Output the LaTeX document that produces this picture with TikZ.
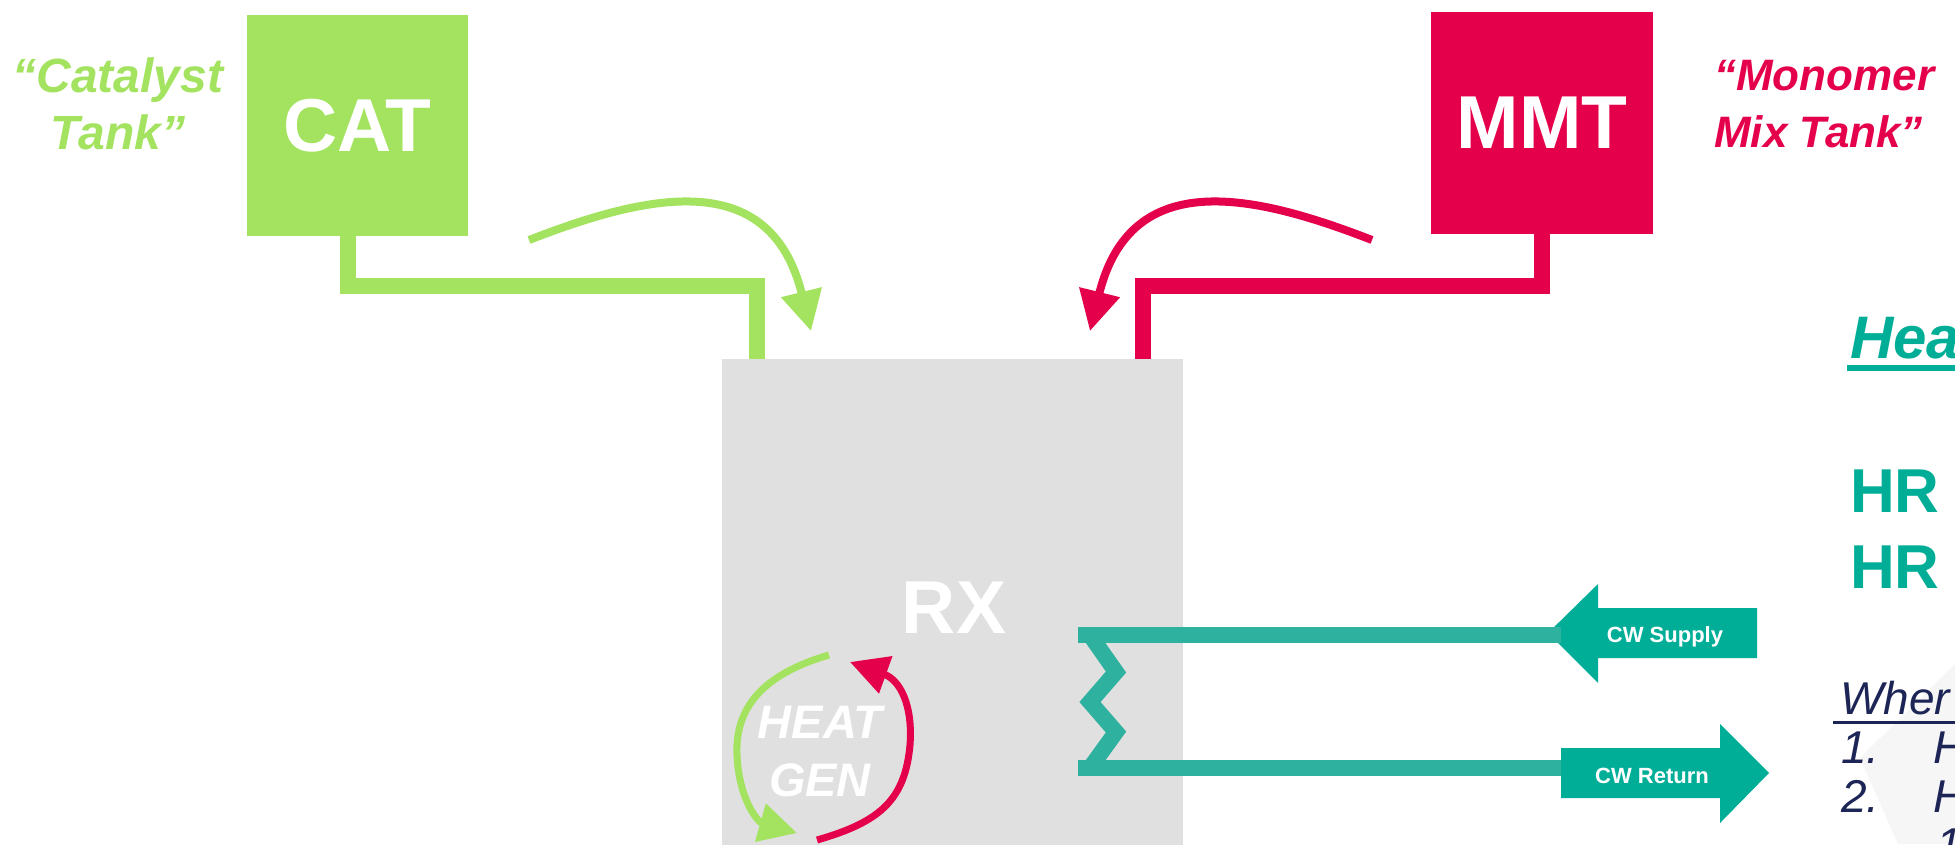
\documentclass[tikz,border=0pt]{standalone}
\usepackage{fontspec}
\setmainfont{Liberation Sans}
\usetikzlibrary{arrows.meta}
\definecolor{catg}{HTML}{A3E35F}
\definecolor{mmtr}{HTML}{E5004C}
\definecolor{rxgray}{HTML}{E0E0E0}
\definecolor{cwteal}{HTML}{00AE97}
\definecolor{coilteal}{HTML}{2FB1A0}
\definecolor{navy}{HTML}{1C2556}
\definecolor{shadegray}{HTML}{F6F6F6}
\begin{document}
\begin{tikzpicture}[x=1pt,y=-1pt,
  tank/.style={draw=none, inner sep=0pt, minimum width=221pt, minimum height=221pt, text=white, font=\bfseries\fontsize{75}{80}\selectfont},
  pipe/.style={line width=16pt, line join=miter},
  feed/.style={line width=8pt, -{Triangle[length=40pt,width=40pt]}},
  loopar/.style={line width=7pt, -{Triangle[length=38pt,width=38pt]}},
  coil/.style={coilteal, line width=16pt, line join=miter},
  cwtext/.style={anchor=base, inner sep=0pt, text=white, font=\bfseries\fontsize{22}{26}\selectfont},
  tanklabel/.style={inner sep=0pt, font=\bfseries\itshape\fontsize{48}{57}\selectfont},
  bigteal/.style={anchor=base west, inner sep=0pt, text=cwteal, font=\bfseries\fontsize{62}{76}\selectfont},
  navytext/.style={anchor=base west, inner sep=0pt, text=navy, font=\itshape\fontsize{46}{49}\selectfont}
]
\useasboundingbox (0,0) rectangle (1955,844);
\fill[white] (0,0) rectangle (1955,844);

% tanks and reactor
\node[tank, fill=catg] (CAT) at (357.5,125.5) {CAT};
\node[tank, fill=mmtr, minimum width=222pt, minimum height=222pt] (MMT) at (1542,123) {MMT};
\node[fill=rxgray, inner sep=0pt, minimum width=461pt, minimum height=560pt, anchor=north west] (RX) at (722,359) {};
\node[anchor=base, inner sep=0pt, text=white, font=\bfseries\fontsize{75}{80}\selectfont] (RXt) at (954,633) {RX};

% labels
\node[tanklabel, text=catg, align=center, anchor=base] (catlab) at (118,149) {``Catalyst\\Tank''};
\node[tanklabel, text=mmtr, align=left, anchor=base west, font=\bfseries\itshape\fontsize{44}{57}\selectfont] (mmtlab) at (1714,147) {``Monomer\\Mix Tank''};

% pipes
\draw[pipe, catg] ([xshift=-9.5pt]CAT.south) -- ++(0,50) -| ([xshift=-195.5pt]RX.north);
\draw[pipe, mmtr] (MMT.south) -- ++(0,52) -| ([xshift=190.5pt]RX.north);

% feed arrows
\coordinate (gs) at (529,240);
\coordinate (ge) at (811,331);
\coordinate (rs) at (1372,240);
\coordinate (re) at (1090,331);
\draw[feed, catg] (gs) .. controls (645,195) and (770,165) .. (ge);
\draw[feed, mmtr] (rs) .. controls (1256,195) and (1131,165) .. (re);

% heat gen
\node[inner sep=0pt, text=white, align=center, font=\bfseries\itshape\fontsize{47}{58}\selectfont] (HG) at (820,752) {HEAT\\GEN};
\coordinate (hgs) at (829,655);
\coordinate (hge) at (797,833);
\coordinate (hrs) at (817,840);
\coordinate (hre) at (850,662);
\draw[loopar, catg] (hgs) .. controls (760,675) and (735,710) .. (737,755) .. controls (739,800) and (758,822) .. (hge);
\draw[loopar, mmtr] (hrs) .. controls (880,822) and (905,800) .. (910,745) .. controls (913,705) and (900,680) .. (hre);

% cooling water arrows
\fill[cwteal] (1548,633) -- (1598,584) -- (1598,608) -- (1757,608) -- (1757,658) -- (1598,658) -- (1598,683) -- cycle;
\fill[cwteal] (1561,748) -- (1720,748) -- (1720,724) -- (1769,773) -- (1720,823) -- (1720,798) -- (1561,798) -- cycle;
\node[cwtext] (sup) at (1665,642) {CW Supply};
\node[cwtext] (ret) at (1652,783) {CW Return};
\coordinate (supTip) at (1561,635);
\coordinate (retTail) at (1561,768);

% coil
\draw[coil] (supTip) -- (1078,635);
\draw[coil] (1090,635) -- (1116,672) -- (1090,702) -- (1116,732) -- (1090,768);
\draw[coil] (1078,768) -- (retTail);

% right side text
\fill[shadegray] (1955,664) -- (1860,758) -- (1898,844) -- (1955,844) -- cycle;
\node[anchor=base west, inner sep=0pt, text=cwteal, font=\bfseries\itshape\fontsize{60}{70}\selectfont] (hea) at (1850,358) {Hea};
\draw[cwteal, line width=6pt] ([xshift=-3pt,yshift=-10pt]hea.base west) -- ++(120,0);
\node[bigteal] (hr1) at (1850,512) {HR};
\node[bigteal] (hr2) at (1850,588) {HR};
\node[navytext] (wher) at (1840,714) {Wher};
\draw[navy, line width=3pt] ([xshift=-7pt,yshift=-8pt]wher.base west) -- ++(130,0);
\node[navytext] (it1) at (1841,763) {\makebox[92pt][l]{1.}H};
\node[navytext] (it2) at (1841,812) {\makebox[92pt][l]{2.}H};
\node[navytext] (it3) at (1936,860) {1};
\end{tikzpicture}
\end{document}
